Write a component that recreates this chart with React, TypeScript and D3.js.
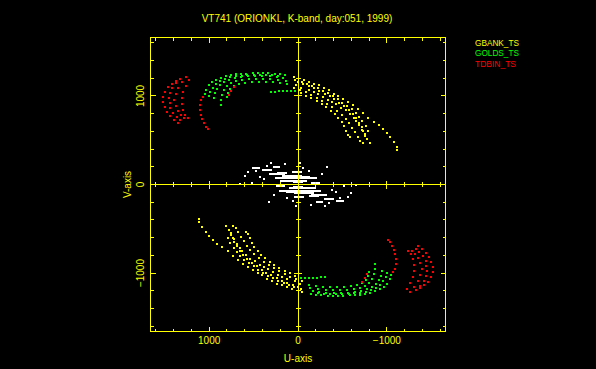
import React from "react";
import * as d3 from "d3";

type P = [number, number];

// ---------- data (u, v, upper half; lower half = conjugates) ----------
const TITLE = "VT741 (ORIONKL, K-band, day:051, 1999)";
const X_LABEL = "U-axis";
const Y_LABEL = "V-axis";
const TICK_VALUES = [-1600, -1400, -1200, -1000, -800, -600, -400, -200, 0, 200, 400, 600, 800, 1000, 1200, 1400, 1600];
const TICK_LABELS: [number, string][] = [[1000, "1000"], [0, "0"], [-1000, "\u22121000"]];
const LIMIT = 1660;

// GBANK_TS (yellow)
const gbank1: P[] = [[48,1213],[-68,1175],[-124,1156],[-180,1138],[-237,1119],[-293,1089],[-349,1063],[-406,1026],[-451,998],[-507,961],[-564,931],[-620,894],[-676,857],[-733,807],[-789,755],[-853,706],[-909,668],[-958,623],[-1003,582],[-1041,536],[-1082,480],[-1109,424],[-1116,387]];
const gbank2: P[] = [[18,1119],[-38,1093],[-124,1063],[-180,1044],[-225,1018],[-282,987],[-338,958],[-388,931],[-433,905],[-489,868],[-538,837],[-583,800],[-628,755],[-658,717],[-688,668],[-718,620],[-752,567],[-778,518],[-808,469]];
const gbank3: P[] = [[0,1160],[-60,1135],[-120,1110],[-180,1085],[-240,1055],[-300,1025],[-355,995],[-410,960],[-465,925],[-520,885],[-570,845],[-615,800],[-655,750],[-690,700],[-715,650],[-735,600],[-750,545]];
const gbank4: P[] = [[-30,1030],[-90,1005],[-150,975],[-210,945],[-265,910],[-320,875],[-370,835],[-415,795],[-455,750],[-490,705],[-520,655],[-545,605],[-565,560],[-580,535]];
const gbank5: P[] = [[40,1090],[-20,1065],[-85,1040],[-150,1010],[-210,980],[-270,945],[-330,910],[-385,870],[-440,830],[-490,785],[-535,740],[-575,690],[-610,640],[-640,590],[-670,540],[-700,495],[-730,465]];
const gbank6: P[] = [[30,1185],[-40,1160],[-100,1135],[-160,1112],[-220,1088],[-280,1058],[-335,1028],[-390,995],[-445,960],[-500,925],[-555,888],[-605,848],[-650,805],[-690,760],[-725,712],[-760,660],[-790,605]];

// GOLDS_TS (green)
const golds1: P[] = [[1051,1026],[1032,1071],[1003,1119],[965,1156],[920,1183],[863,1206],[807,1224],[751,1235],[694,1243],[638,1246],[581,1251],[507,1258],[451,1258],[394,1258],[338,1258],[263,1251],[206,1243],[150,1235]];
const golds2: P[] = [[950,973],[939,1029],[916,1074],[882,1119],[837,1153],[781,1175],[713,1198],[646,1209],[567,1220],[488,1226],[409,1226],[319,1220],[240,1209],[172,1198]];
const golds3: P[] = [[871,894],[871,950],[860,1006],[837,1063],[804,1108],[758,1142],[702,1164],[635,1175],[556,1187],[477,1192],[398,1192],[319,1187],[229,1175],[139,1164]];
const golds4: P[] = [[804,984],[792,1029],[770,1074],[725,1108],[668,1130],[601,1142],[522,1153],[443,1159],[364,1159],[285,1153],[206,1142],[127,1130]];
const golds5: P[] = [[300,1045],[255,1050],[210,1053],[165,1055],[120,1055],[75,1055],[30,1053]];
const golds6: P[] = [[1000,1000],[985,1050],[955,1095],[920,1135],[875,1165],[820,1190],[760,1210],[700,1222],[635,1230],[570,1236],[500,1240],[430,1240],[360,1238],[290,1232],[220,1225]];

// TDBIN_TS (red)
const tdbin1: P[] = [[1378,1164],[1423,1130],[1468,1097],[1502,1040],[1514,984],[1514,928],[1502,871],[1479,815],[1446,770],[1401,725],[1356,691]];
const tdbin2: P[] = [[1333,1187],[1378,1142],[1423,1085],[1446,1029],[1457,973],[1446,916],[1435,860],[1412,804],[1367,758],[1333,725]];
const tdbin3: P[] = [[1266,1209],[1311,1153],[1356,1085],[1378,1018],[1390,950],[1378,882],[1356,826],[1322,781],[1288,747]];
const tdbin4: P[] = [[1232,1175],[1266,1108],[1299,1040],[1311,973],[1311,905],[1299,837],[1277,781],[1243,747]];
const tdbin5: P[] = [[1071,987],[1089,950],[1100,894],[1108,837],[1097,781],[1082,744],[1059,694],[1032,649],[1018,623]];
const tdbin6: P[] = [[778,1006],[751,1060],[721,1100]];

// short baselines near the origin (white): [u1, u2, v] streaks and single points
const centralStreaks: [number, number, number][] = [[110,-130,88],[200,-100,45],[260,60,70],[330,150,120],[409,296,167],[285,206,195],[522,431,183],[-150,-250,20],[60,-60,30],[90,-210,75],[180,-40,100],[240,120,135],[70,-50,140]];
const centralDots: P[] = [[470,150],[350,210],[560,140],[-20,240],[150,230],[-330,195],[-270,120],[430,90],[-120,150],[520,20],[600,100],[650,10],[380,60],[-60,190],[300,240]];

const LEGEND_NAMES = ["GBANK_TS", "GOLDS_TS", "TDBIN_TS"];
const LEGEND_COLORS = ["#ffff00", "#00ff00", "#ff0000"];

const SERIES: { color: string; tracks: P[][] }[] = [
  { color: LEGEND_COLORS[0], tracks: [gbank1, gbank2, gbank3, gbank4, gbank5, gbank6] },
  { color: LEGEND_COLORS[1], tracks: [golds1, golds2, golds3, golds4, golds5, golds6] },
  { color: LEGEND_COLORS[2], tracks: [tdbin1, tdbin2, tdbin3, tdbin4, tdbin5, tdbin6] },
];

const withConjugates = (pts: P[]): P[] => pts.concat(pts.map(([u, v]) => [-u, -v] as P));

export default function App() {
  const W = 596, H = 369;
  const x = d3.scaleLinear().domain([LIMIT, -LIMIT]).range([150.5, 445.5]);
  const y = d3.scaleLinear().domain([-LIMIT, LIMIT]).range([331.5, 37.5]);
  const yellow = "#ffff00";
  const font = "'Liberation Sans', Arial, sans-serif";
  const x0 = x(0), y0 = y(0);
  const left = x(LIMIT), right = x(-LIMIT), top = y(LIMIT), bottom = y(-LIMIT);

  const ticks: JSX.Element[] = [];
  TICK_VALUES.forEach((t, i) => {
    const major = t % 1000 === 0;
    const len = major ? 5 : 3;
    const cross = major ? 4 : 2.5;
    const tx = x(t), ty = y(t);
    ticks.push(
      <line key={`bx${i}`} x1={tx} x2={tx} y1={bottom} y2={bottom - len} />,
      <line key={`tx${i}`} x1={tx} x2={tx} y1={top} y2={top + len} />,
      <line key={`ly${i}`} x1={left} x2={left + len} y1={ty} y2={ty} />,
      <line key={`ry${i}`} x1={right} x2={right - len} y1={ty} y2={ty} />,
    );
    if (t !== 0) {
      ticks.push(
        <line key={`cx${i}`} x1={tx} x2={tx} y1={y0 - cross} y2={y0 + cross} />,
        <line key={`cy${i}`} x1={x0 - cross} x2={x0 + cross} y1={ty} y2={ty} />,
      );
    }
  });

  const streaks = centralStreaks.concat(centralStreaks.map(([a, b, v]) => [-a, -b, -v] as [number, number, number]));

  return (
    <div style={{ position: "fixed", left: 0, top: 0, width: W, height: H, background: "#000" }}>
      <svg width={W} height={H} style={{ display: "block", background: "#000" }} fontFamily={font}>
        <g shapeRendering="crispEdges">
          {streaks.map(([a, b, v], i) => (
            <rect key={`s${i}`} x={Math.min(x(a), x(b))} y={y(v) - 1} width={Math.abs(x(a) - x(b))} height={2} fill="#fff" />
          ))}
          {withConjugates(centralDots).map(([u, v], i) => (
            <rect key={`w${i}`} x={x(u) - 1} y={y(v) - 1} width={2} height={2} fill="#fff" />
          ))}
          {SERIES.map((s, si) =>
            s.tracks.map((tr, ti) =>
              withConjugates(tr).map(([u, v], pi) => (
                <rect key={`p${si}-${ti}-${pi}`} x={x(u) - 1} y={y(v) - 1} width={2} height={2} fill={s.color} />
              ))
            )
          )}
        </g>
        <g stroke={yellow} strokeWidth={1} fill="none" shapeRendering="crispEdges">
          <rect x={left} y={top} width={right - left} height={bottom - top} />
          <line x1={x0} x2={x0} y1={top} y2={bottom} />
          <line x1={left} x2={right} y1={y0} y2={y0} />
          {ticks}
        </g>
        <g fill={yellow} fontSize={10}>
          {TICK_LABELS.map(([t, s]) => (
            <text key={`xl${t}`} x={x(t)} y={343.5} textAnchor="middle">{s}</text>
          ))}
          {TICK_LABELS.map(([t, s]) => (
            <text key={`yl${t}`} transform={`translate(143.5,${y(t)}) rotate(-90)`} textAnchor="middle">{s}</text>
          ))}
          <text x={x0} y={362} textAnchor="middle">{X_LABEL}</text>
          <text transform={`translate(131,${y0}) rotate(-90)`} textAnchor="middle">{Y_LABEL}</text>
          <text x={297} y={22} textAnchor="middle">{TITLE}</text>
        </g>
        <g fontSize={9}>
          {LEGEND_NAMES.map((n, i) => (
            <text key={n} x={475} y={45.5 + i * 10.5} fill={LEGEND_COLORS[i]} textLength={n === "TDBIN_TS" ? 41 : 44} lengthAdjust="spacingAndGlyphs">{n}</text>
          ))}
        </g>
      </svg>
    </div>
  );
}
